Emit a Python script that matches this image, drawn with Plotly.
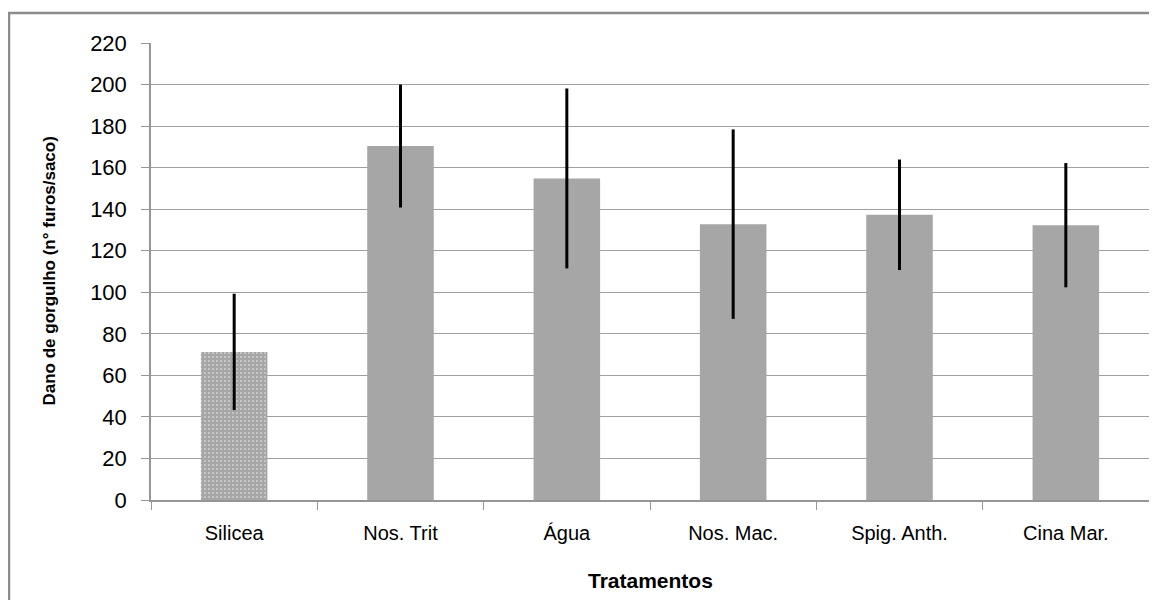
import plotly.graph_objects as go

categories = ["Silicea", "Nos. Trit", "Água", "Nos. Mac.", "Spig. Anth.", "Cina Mar."]
values = [71.3, 170.4, 154.8, 132.8, 137.3, 132.3]
errors = [28.0, 29.6, 43.3, 45.6, 26.6, 29.9]
y_ticks = [0, 20, 40, 60, 80, 100, 120, 140, 160, 180, 200, 220]

W, H = 1157, 600
L, R, T, B = 143, 16, 35, 108
PW, PH = W - L - R, H - T - B

fig = go.Figure()
fig.add_trace(go.Bar(
    x=categories, y=values,
    width=0.4,
    marker=dict(
        color="#a6a6a6",
        line=dict(width=0),
        pattern=dict(
            shape=[".", "", "", "", "", ""],
            fgcolor="#f4f4f4",
            bgcolor="#a6a6a6",
            size=4,
            solidity=0.2,
            fillmode="overlay",
        ),
    ),
    error_y=dict(type="data", array=errors, visible=True, color="#000000",
                 thickness=3, width=0),
    showlegend=False,
))

fig.update_layout(
    width=W, height=H,
    margin=dict(l=L, r=R, t=T, b=B),
    paper_bgcolor="white", plot_bgcolor="white",
    font=dict(family="Liberation Sans, Arial, sans-serif", color="#000000", size=20),
    xaxis=dict(
        showgrid=False, showline=True, linecolor="#969696", linewidth=1.5,
        ticks="outside", tickson="boundaries", ticklen=8, tickcolor="#969696",
        tickfont=dict(size=20), range=[-0.5, 5.5], ticklabelstandoff=14,
    ),
    yaxis=dict(
        range=[0, 220], tickvals=y_ticks, showgrid=True, gridcolor="#a0a0a0", gridwidth=1.3,
        showline=True, linecolor="#969696", linewidth=1.5,
        ticks="outside", ticklen=8, tickcolor="#969696",
        tickfont=dict(size=22), zeroline=False, ticklabelstandoff=10,
    ),
    annotations=[
        dict(text="<b>Tratamentos</b>", xref="paper", yref="paper", x=0.5,
             y=-(572 - (T + PH)) / PH,
             showarrow=False, font=dict(size=21), xanchor="center", yanchor="middle"),
        dict(text="<b>Dano de gorgulho (n° furos/saco)</b>", xref="paper", yref="paper",
             x=(41 - L) / PW, y=0.5, textangle=-90, showarrow=False,
             font=dict(size=17), xanchor="center", yanchor="middle"),
    ],
    shapes=[
        dict(type="rect", xref="paper", yref="paper",
             x0=(1 - L) / PW, x1=(W + 10 - L) / PW,
             y0=-(H + 10 - T - PH) / PH, y1=1 + (T - 5) / PH,
             line=dict(color="#8c8c8c", width=2.5), layer="below"),
    ],
)

fig.write_html("out.html")
